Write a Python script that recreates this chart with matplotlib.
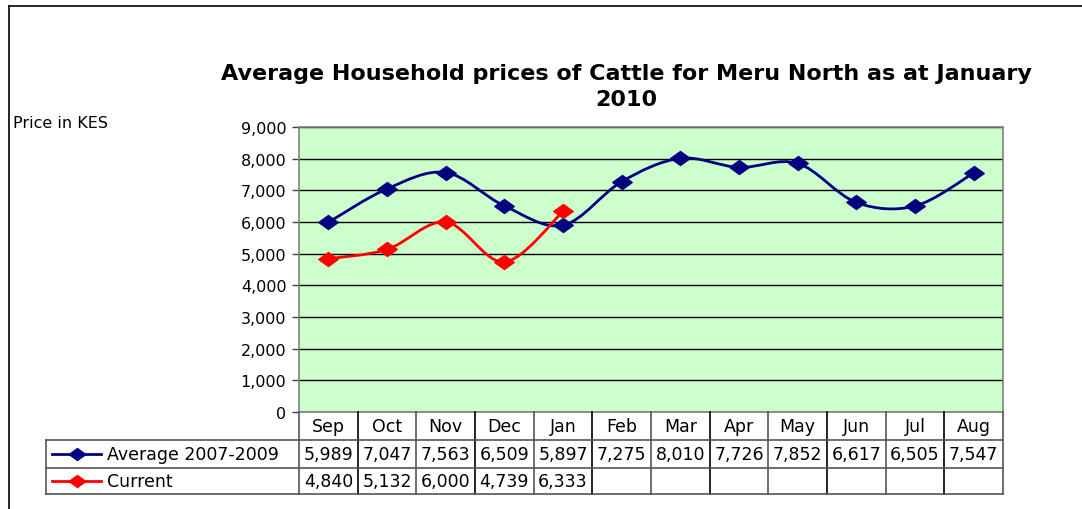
import matplotlib
matplotlib.use("Agg")
import matplotlib.pyplot as plt
from matplotlib.path import Path
from matplotlib.patches import PathPatch
from matplotlib.lines import Line2D
import matplotlib.transforms as mtransforms
from matplotlib.ticker import FuncFormatter, MultipleLocator

months = ["Sep", "Oct", "Nov", "Dec", "Jan", "Feb", "Mar", "Apr", "May", "Jun", "Jul", "Aug"]
average = [5989, 7047, 7563, 6509, 5897, 7275, 8010, 7726, 7852, 6617, 6505, 7547]
current = [4840, 5132, 6000, 4739, 6333]
series_names = ["Average 2007-2009", "Current"]
title = "Average Household prices of Cattle for Meru North as at January\n2010"
ylabel = "Price in KES"

NAVY = "#000080"
RED = "#FF0000"
FONT = "DejaVu Sans"

W, H = 1082, 510
fig = plt.figure(figsize=(W / 100, H / 100), dpi=100)
fig.patch.set_facecolor("white")

def fx(px):
    return px / W

def fy(py):
    return 1 - py / H

L, R, T, B = 299, 1003, 128, 413
ax = fig.add_axes([fx(L), fy(B), fx(R) - fx(L), fy(T) - fy(B)])
ax.set_facecolor("#CCFFCC")
ax.set_xlim(-0.5, len(months) - 0.5)
ax.set_ylim(0, 9000)
ax.yaxis.set_major_locator(MultipleLocator(1000))
ax.yaxis.set_major_formatter(FuncFormatter(lambda v, p: f"{int(v):,}"))
ax.grid(axis="y", color="black", linewidth=1)
ax.set_axisbelow(True)
ax.set_xticks([])
for s in ax.spines.values():
    s.set_color("#808080")
    s.set_linewidth(1.2)
ax.tick_params(axis="y", length=5, width=1, color="#404040", pad=4, labelsize=11.5)
for lab in ax.get_yticklabels():
    lab.set_fontfamily(FONT)

diamond = Path([(-1, 0), (0, 0.72), (1, 0), (0, -0.72), (-1, 0)],
               [Path.MOVETO, Path.LINETO, Path.LINETO, Path.LINETO, Path.CLOSEPOLY])

def smooth_path(ys):
    xs = list(range(len(ys)))
    pts = list(zip(xs, ys))
    verts = [pts[0]]
    codes = [Path.MOVETO]
    n = len(pts)
    for i in range(n - 1):
        p0 = pts[i - 1] if i > 0 else pts[i]
        p1 = pts[i]
        p2 = pts[i + 1]
        p3 = pts[i + 2] if i + 2 < n else pts[i + 1]
        c1 = (p1[0] + (p2[0] - p0[0]) / 6, p1[1] + (p2[1] - p0[1]) / 6)
        c2 = (p2[0] - (p3[0] - p1[0]) / 6, p2[1] - (p3[1] - p1[1]) / 6)
        verts += [c1, c2, p2]
        codes += [Path.CURVE4] * 3
    return Path(verts, codes)

for ys, col in [(average, NAVY), (current, RED)]:
    ax.add_patch(PathPatch(smooth_path(ys), facecolor="none", edgecolor=col,
                           linewidth=2.0, zorder=3))
    ax.plot(range(len(ys)), ys, linestyle="none", marker=diamond, markersize=14,
            color=col, markeredgecolor=col, zorder=4, clip_on=False)

# data table
bt = mtransforms.blended_transform_factory(ax.transData, fig.transFigure)
rows_y = [413, 441, 469, 495]
gray = "#555555"
TFS = 12.5
for i, m in enumerate(months):
    ax.text(i, fy((413 + 441) / 2), m, transform=bt, ha="center", va="center",
            fontsize=TFS, family=FONT, clip_on=False)
    ax.text(i, fy((441 + 469) / 2), f"{average[i]:,}", transform=bt, ha="center",
            va="center", fontsize=TFS, family=FONT, clip_on=False)
    if i < len(current):
        ax.text(i, fy((469 + 495) / 2), f"{current[i]:,}", transform=bt, ha="center",
                va="center", fontsize=TFS, family=FONT, clip_on=False)

TL = 46
for k in range(len(months) + 1):
    xb = k - 0.5
    fig.add_artist(Line2D([xb, xb], [fy(413), fy(495)], transform=bt,
                          color="black" if k % 2 else gray, linewidth=1.2))
for yy in rows_y[1:]:
    fig.add_artist(Line2D([fx(TL), fx(R)], [fy(yy), fy(yy)], transform=fig.transFigure,
                          color=gray, linewidth=1.2))
fig.add_artist(Line2D([fx(TL), fx(TL)], [fy(441), fy(495)], transform=fig.transFigure,
                      color=gray, linewidth=1.2))

# legend keys in row headers
for r, (name, col) in enumerate(zip(series_names, [NAVY, RED])):
    yc = fy((rows_y[r + 1] + rows_y[r + 2]) / 2)
    fig.add_artist(Line2D([fx(52), fx(101)], [yc, yc], transform=fig.transFigure,
                          color=col, linewidth=2.0))
    fig.add_artist(Line2D([fx(77)], [yc], transform=fig.transFigure, marker=diamond,
                          markersize=12, color=col, linestyle="none"))
    fig.text(fx(107), yc, name, ha="left", va="center", fontsize=TFS, family=FONT)

# title and y label
fig.text(0.579, fy(87), title, ha="center", va="center", fontsize=16,
         fontweight="bold", family=FONT, linespacing=1.4)
fig.text(fx(13), fy(124), ylabel, ha="left", va="center", fontsize=11.5, family=FONT)

# chart border
fig.add_artist(Line2D([fx(9), 1.0], [fy(7), fy(7)], transform=fig.transFigure,
                      color="black", linewidth=1.2))
fig.add_artist(Line2D([fx(9), fx(9)], [fy(7), 0.0], transform=fig.transFigure,
                      color="black", linewidth=1.2))

fig.savefig("out.png", dpi=100)
